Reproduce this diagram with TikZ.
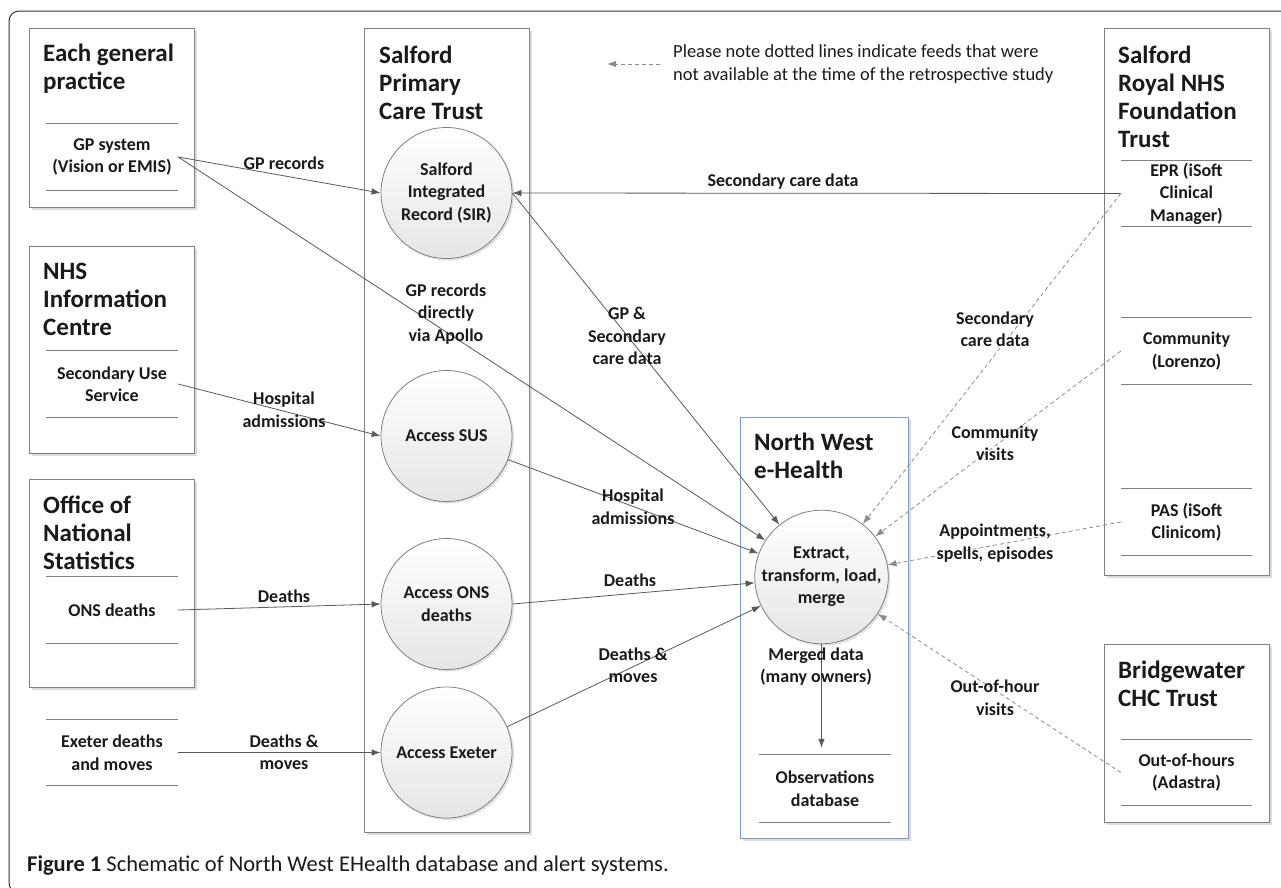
\documentclass[tikz,border=0pt]{standalone}
\usepackage{fontspec}
\setmainfont{Carlito}
\usetikzlibrary{arrows.meta,shadows}

\definecolor{boxgray}{HTML}{808080}
\definecolor{arrowgray}{HTML}{595959}
\definecolor{feedgray}{HTML}{8C8C8C}
\definecolor{nwblue}{HTML}{7F9CC8}
\definecolor{inkblack}{HTML}{1A1A1A}

\tikzstyle{orgbox} = [draw=boxgray, fill=white, line width=0.9pt, rectangle,
  drop shadow={shadow xshift=2.5pt, shadow yshift=-2.5pt, opacity=0.3, fill=black!45}]
\tikzstyle{orgtitle} = [anchor=west, align=left, inner sep=0pt, text=inkblack,
  font=\fontsize{25}{28}\selectfont\bfseries]
\tikzstyle{process} = [draw=boxgray, circle, line width=0.8pt, minimum size=131pt,
  inner sep=0pt, align=center, top color=white, bottom color=black!10, text=inkblack,
  font=\fontsize{18}{22.5}\selectfont\bfseries,
  drop shadow={shadow xshift=2pt, shadow yshift=-2pt, opacity=0.25, fill=black!45}]
\tikzstyle{store} = [minimum width=132pt, minimum height=66pt, inner sep=0pt,
  align=center, text=inkblack, font=\fontsize{18}{22.5}\selectfont\bfseries]
\tikzstyle{flowlabel} = [align=center, inner sep=1pt, text=inkblack,
  font=\fontsize{18}{22.5}\selectfont\bfseries]
\tikzstyle{sepline} = [draw=boxgray, line width=0.9pt]
\tikzstyle{flow} = [draw=arrowgray, line width=0.8pt, -{Latex[length=9pt,width=6.5pt]}]
\tikzstyle{feed} = [flow, draw=feedgray, dash pattern=on 4pt off 3pt]

\begin{document}
\begin{tikzpicture}[x=1pt,y=-1pt]
        \useasboundingbox (0,0) rectangle (1281,887);
        \clip (0,0) rectangle (1281,887);
        \draw[draw=black!80, line width=1pt, rounded corners=10pt] (9,11) rectangle (1300,893);

        % organisations
        \node [orgbox, minimum width=165pt, minimum height=179pt] (egp) at (111.5,117.5) {};
        \node [orgbox, minimum width=165pt, minimum height=207pt] (nhsic) at (111.5,349.5) {};
        \node [orgbox, minimum width=165pt, minimum height=208pt] (ons) at (111.5,583) {};
        \node [orgbox, minimum width=165pt, minimum height=804pt] (pct) at (446.5,430) {};
        \node [orgbox, minimum width=165pt, minimum height=547pt] (srt) at (1186.5,301.5) {};
        \node [orgbox, minimum width=165pt, minimum height=178pt] (bwt) at (1186.5,733) {};
        \node [orgbox, draw=nwblue, minimum width=168pt, minimum height=421pt] (nwe) at (824,627.5) {};

        \node [orgtitle] (egptitle) at (43,68.5) {Each general\\practice};
        \node [orgtitle] (nhsictitle) at (43,299.5) {NHS\\Information\\Centre};
        \node [orgtitle] (onstitle) at (43,533) {Office of\\National\\Statistics};
        \node [orgtitle] (pcttitle) at (379,82.5) {Salford\\Primary\\Care Trust};
        \node [orgtitle] (srttitle) at (1118,97) {Salford\\Royal NHS\\Foundation\\Trust};
        \node [orgtitle] (bwttitle) at (1118,684) {Bridgewater\\CHC Trust};
        \node [orgtitle] (nwetitle) at (754,456) {North West\\e-Health};

        % data stores
        \node [store] (gpstore) at (112,157) {GP system\\(Vision or EMIS)};
        \node [store] (susstore) at (112,384) {Secondary Use\\Service};
        \node [store] (onsstore) at (112,610) {ONS deaths};
        \node [store] (exeterstore) at (112,752.5) {Exeter deaths\\and moves};
        \node [store, minimum width=131pt] (eprstore) at (1186.5,193.5) {EPR (iSoft\\Clinical\\Manager)};
        \node [store, minimum width=131pt] (lorenzostore) at (1186.5,351) {Community\\(Lorenzo)};
        \node [store, minimum width=131pt] (passtore) at (1186.5,522) {PAS (iSoft\\Clinicom)};
        \node [store, minimum width=131pt] (adastrastore) at (1186.5,772.5) {Out-of-hours\\(Adastra)};
        \node [store, minimum height=67pt] (obsstore) at (825,788.5) {Observations\\database};
        \foreach \s in {gpstore,susstore,onsstore,exeterstore,eprstore,lorenzostore,passtore,adastrastore,obsstore}
          \draw [sepline] (\s.north west) -- (\s.north east) (\s.south west) -- (\s.south east);

        % processes
        \node [process] (sir) at (446.5,193) {Salford\\Integrated\\Record (SIR)};
        \node [process] (accsus) at (446.5,436) {Access SUS};
        \node [process] (accons) at (446.5,604) {Access ONS\\deaths};
        \node [process] (accexeter) at (446.5,752.5) {Access Exeter};
        \node [process] (etl) at (821.5,577) {Extract,\\transform, load,\\merge};

        % flows
        \draw[flow] (gpstore.east) -- (sir.west);
        \draw[flow] (gpstore.east) -- (etl);
        \draw[flow] (susstore.east) -- (accsus.west);
        \draw[flow] (onsstore.east) -- (accons.west);
        \draw[flow] (exeterstore.east) -- (accexeter.west);
        \draw[flow] (eprstore.west) -- (sir.east);
        \draw[flow] (sir.east) -- (etl);
        \draw[flow] (accsus.-21) -- (etl);
        \draw[flow] (accons.east) -- (etl);
        \draw[flow] (accexeter.23) -- (etl);
        \draw[flow, shorten >=7pt] (etl.south) -- (etl.south |- obsstore.north);
        \draw[feed] (eprstore.west) -- (etl);
        \draw[feed] (lorenzostore.west) -- (etl);
        \draw[feed] (passtore.west) -- (etl);
        \draw[feed] (adastrastore.west) -- (etl);

        \node [flowlabel] (lbgp) at (284,163) {GP records};
        \node [flowlabel] (lbapollo) at (446,314) {GP records\\directly\\via Apollo};
        \node [flowlabel] (lbhosp) at (284,409.5) {Hospital\\admissions};
        \node [flowlabel] (lbdeaths) at (284,596) {Deaths};
        \node [flowlabel] (lbexeter) at (284,752) {Deaths \&\\moves};
        \node [flowlabel] (lbsecsir) at (783,182) {Secondary care data};
        \node [flowlabel] (lbgpsec) at (627,336) {GP \&\\Secondary\\care data};
        \node [flowlabel] (lbhospetl) at (633,506.5) {Hospital\\admissions};
        \node [flowlabel] (lbdeathsetl) at (630,580) {Deaths};
        \node [flowlabel] (lbmoves) at (633,665) {Deaths \&\\moves};
        \node [flowlabel] (lbsecetl) at (995,329) {Secondary\\care data};
        \node [flowlabel] (lbcomm) at (995,443) {Community\\visits};
        \node [flowlabel] (lbappt) at (995,543) {Appointments,\\spells, episodes};
        \node [flowlabel] (lbooh) at (995,697.5) {Out-of-hour\\visits};
        \node [flowlabel] (lbmerged) at (816,666.5) {Merged data\\(many owners)};

        % legend and caption
        \coordinate (legstart) at (660,64);
        \coordinate (legend) at (607,64);
        \draw[feed] (legstart) -- (legend);
        \node [anchor=west, align=left, inner sep=0pt, text=inkblack,
          font=\fontsize{18.5}{23}\selectfont] (legtext) at (673,64.5)
          {Please note dotted lines indicate feeds that were\\not available at the time of the retrospective study};
        \node [anchor=west, inner sep=0pt, text=inkblack, font=\fontsize{22.5}{26}\selectfont]
          (caption) at (27,865) {\textbf{Figure 1} Schematic of North West EHealth database and alert systems.};
      \end{tikzpicture}
\end{document}
